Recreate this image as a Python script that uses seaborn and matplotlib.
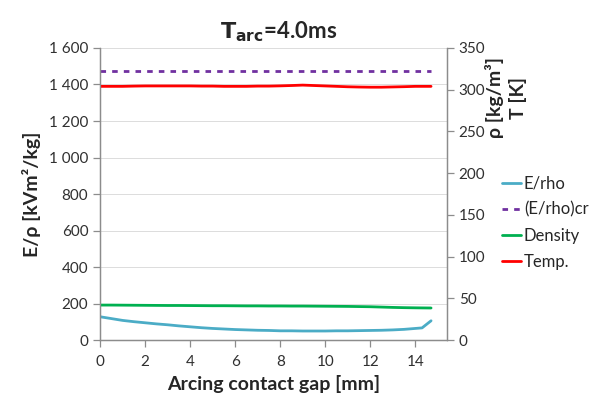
import numpy as np
import pandas as pd
import matplotlib
matplotlib.use("Agg")
import matplotlib.pyplot as plt
import seaborn as sns
from matplotlib.ticker import FuncFormatter, MultipleLocator

sns.set_style("white")
plt.rcParams['font.family'] = ['Lato', 'DejaVu Sans']

gap = [0, 0.5, 1, 1.5, 2, 2.5, 3, 3.5, 4, 4.5, 5, 5.5, 6, 6.5, 7, 7.5, 8, 8.5, 9, 9.5,
       10, 10.5, 11, 11.5, 12, 12.5, 13, 13.5, 14, 14.3, 14.7]
e_rho = [128, 118, 108, 101, 95, 89, 84, 78, 73, 68, 64, 61, 58, 56, 54, 53, 51, 51, 50, 50,
         50, 51, 51, 52, 53, 54, 56, 59, 64, 67, 106]
e_rho_cr = [1475] * len(gap)
density = [42, 42, 41.9, 41.8, 41.7, 41.6, 41.5, 41.5, 41.4, 41.3, 41.2, 41.2, 41.1, 41.0, 41.0, 40.9,
           40.9, 40.8, 40.8, 40.7, 40.6, 40.5, 40.4, 40.2, 40.0, 39.6, 39.2, 38.9, 38.7, 38.6, 38.5]
temp = [304, 304, 304, 304.3, 304.5, 304.5, 304.5, 304.5, 304.5, 304.3, 304.3, 304, 304, 304, 304.3, 304.3,
        304.6, 305, 305.5, 305, 304.5, 304, 303.5, 303.2, 303, 303, 303.3, 303.6, 304, 304, 304]

df = pd.DataFrame({"gap": gap, "e_rho": e_rho, "e_rho_cr": e_rho_cr,
                   "density": density, "temp": temp})

c_erho = "#4BACC6"
c_cr = "#7030A0"
c_den = "#00B050"
c_temp = "#FF0000"

fig = plt.figure(figsize=(6.03, 4.03), dpi=100)
ax = fig.add_axes([0.166, 0.156, 0.575, 0.725])
ax2 = ax.twinx()

sns.lineplot(data=df, x="gap", y="e_rho", ax=ax, color=c_erho, lw=2, label="E/rho", legend=False)
sns.lineplot(data=df, x="gap", y="e_rho_cr", ax=ax, color=c_cr, lw=2,
             label="(E/rho)cr", legend=False)
sns.lineplot(data=df, x="gap", y="density", ax=ax2, color=c_den, lw=2, label="Density", legend=False)
sns.lineplot(data=df, x="gap", y="temp", ax=ax2, color=c_temp, lw=2, label="Temp.", legend=False)
ax.lines[1].set_dashes([2, 2.2])

ax.set_xlim(0, 15.4)
ax.set_ylim(0, 1600)
ax2.set_ylim(0, 350)
ax.set_xticks(range(0, 15, 2))
ax.yaxis.set_major_locator(MultipleLocator(200))
ax2.yaxis.set_major_locator(MultipleLocator(50))
ax.yaxis.set_major_formatter(FuncFormatter(lambda v, p: f"{int(v):,}".replace(",", " ")))

ax.grid(axis="y", color="#dcdcdc", lw=0.7)
ax.set_axisbelow(True)

for a in (ax, ax2):
    for s in a.spines.values():
        s.set_color("#8c8c8c")
        s.set_linewidth(0.9)
    a.spines["top"].set_visible(False)
    a.tick_params(colors="#8c8c8c", labelcolor="#303030", labelsize=11, length=5, width=0.9,
                  direction="out")
ax.tick_params(axis="x", bottom=True, pad=6)
ax.tick_params(axis="y", left=True)
ax2.tick_params(axis="y", right=True)

ax.set_xlabel("Arcing contact gap [mm]", fontsize=14, fontweight="bold", labelpad=4)
ax.set_ylabel("E/ρ [kVm²/kg]", fontsize=14, fontweight="bold", labelpad=6)
ax2.set_ylabel("ρ [kg/m³]\nT [K]", fontsize=14, fontweight="bold", linespacing=1.35,
               ha="center", va="center")
ax2.yaxis.set_label_coords(1.17, 0.83)
fig.text(0.462, 0.89, r"$\mathbf{T_{arc}}$=4.0ms", fontsize=16, fontweight="bold",
         ha="center", va="bottom")

handles = ax.lines[:2] + ax2.lines[:2]
labels = ["E/rho", "(E/rho)cr", "Density", "Temp."]
fig.legend(handles, labels, loc="center left", bbox_to_anchor=(0.822, 0.447), frameon=False,
           fontsize=12, handlelength=1.1, handletextpad=0.2, labelspacing=0.6,
           borderaxespad=0)

fig.savefig("out.png", dpi=100)
